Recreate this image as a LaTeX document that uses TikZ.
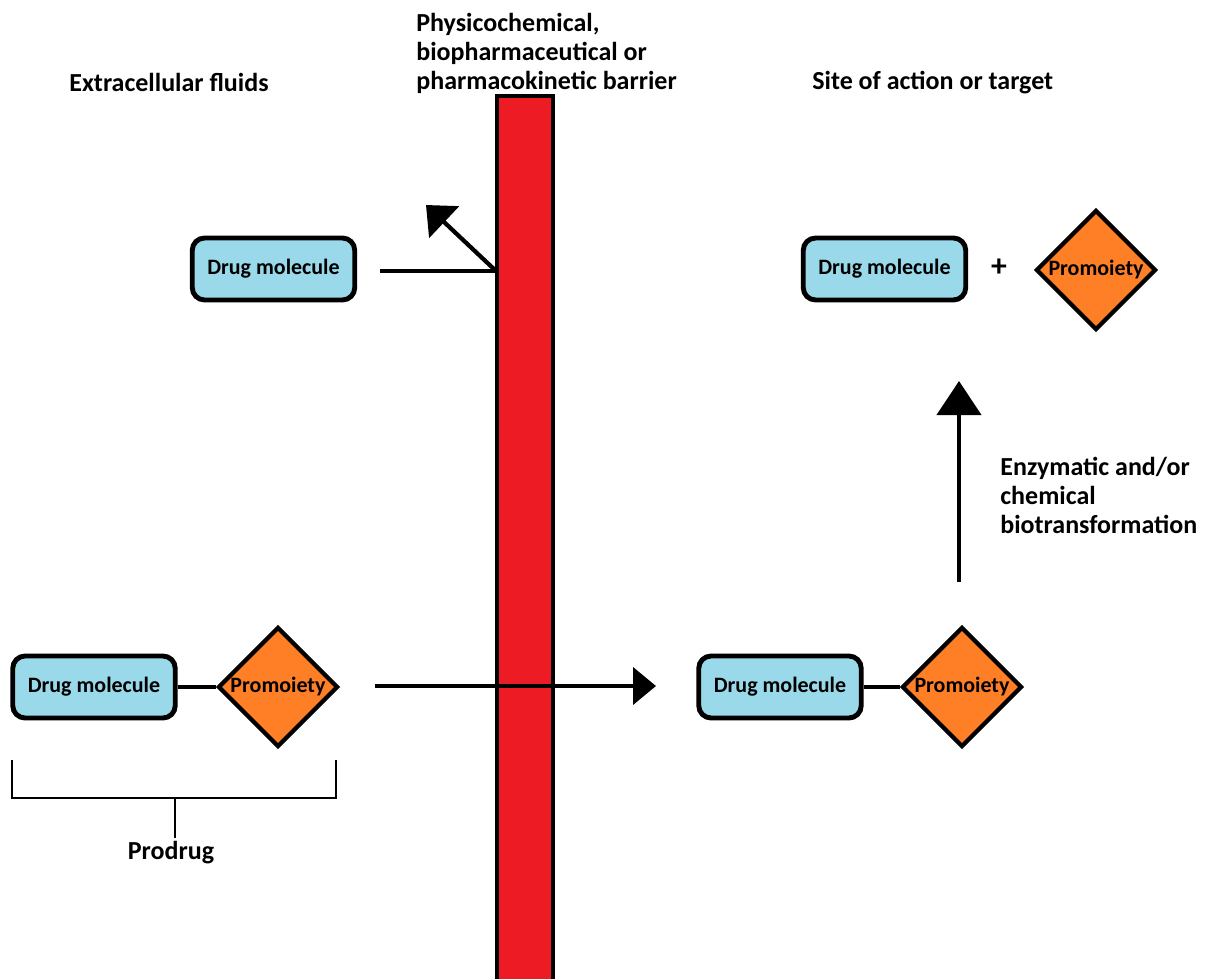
\documentclass[tikz,border=0pt]{standalone}
\usepackage{fontspec}
\setmainfont{Carlito}
\usetikzlibrary{shapes.geometric, arrows.meta, positioning}

\definecolor{molblue}{RGB}{153,217,234}
\definecolor{moietyorange}{RGB}{255,127,39}
\definecolor{barrierred}{RGB}{237,28,36}

\tikzset{
	molecule/.style = {draw, line width = 2.8pt, rounded corners = 7pt, fill = molblue,
		minimum width = 3.25cm, minimum height = 1.24cm, inner sep = 0pt,
		font = \bfseries\fontsize{12.5}{15}\selectfont},
	moiety/.style = {diamond, draw, line width = 2.4pt, fill = moietyorange, aspect = 1,
		minimum size = 2.4cm, inner sep = 0pt,
		label = {[font = \bfseries\fontsize{12.5}{15}\selectfont]center:Promoiety}},
	bond/.style = {line width = 2.4pt},
	heading/.style = {inner sep = 0pt, align = left, font = \bfseries\fontsize{14.8}{16.6}\selectfont}
}

\begin{document}
\begin{tikzpicture}[x = 0.02cm, y = -0.02cm]
\useasboundingbox (0, 0) rectangle (1210, 978);
\clip (0, 0) rectangle (1210, 978);

\node[heading, anchor = base west] (fluids) at (69, 91) {Extracellular fluids};
\node[heading, anchor = north west] (barrierlabel) at (416, 13) {Physicochemical,\\ biopharmaceutical or\\ pharmacokinetic barrier};
\node[heading, anchor = base west] (target) at (812, 89) {Site of action or target};

% the barrier
\draw[line width = 1.8pt, fill = barrierred] (497, 96) rectangle (553, 995);

% drug alone is turned back
\node[molecule] (drugA) at (273.5, 269) {Drug molecule};
\coordinate (blockstart) at (380, 271);
\coordinate (blockhit) at (496, 271);
\coordinate (bounce) at (426, 205);
\draw[bond] (blockstart) -- (blockhit);
\draw[bond, -{Triangle[length = 0.5cm, width = 0.86cm]}] (blockhit) -- (bounce);

% prodrug crosses the barrier
\node[molecule] (drugB) at (94, 687) {Drug molecule};
\node[moiety] (moietyB) at (278, 687) {};
\draw[bond] (drugB) -- (moietyB);
\coordinate (passstart) at (375, 686);
\coordinate (passend) at (656, 686);
\draw[bond, -{Triangle[length = 0.46cm, width = 0.74cm]}] (passstart) -- (passend);

\draw[line width = 0.8pt] (12, 760) -- (12, 798) -- (336, 798) -- (336, 760);
\coordinate (bracketmid) at (175, 798);
\node[heading, inner sep = 2pt] (prodrug) at (171, 853) {Prodrug};
\draw[line width = 0.8pt] (bracketmid) -- (bracketmid |- prodrug.north);

\node[molecule] (drugC) at (780, 687) {Drug molecule};
\node[moiety] (moietyC) at (962, 687) {};
\draw[bond] (drugC) -- (moietyC);

% release at the target
\coordinate (transfstart) at (959, 582);
\coordinate (transfend) at (959, 381);
\draw[bond, -{Triangle[length = 0.68cm, width = 0.88cm]}] (transfstart) -- (transfend);
\node[heading, anchor = north west] (enzyme) at (1000, 457) {Enzymatic and/or\\ chemical\\ biotransformation};

\node[molecule] (drugD) at (884.5, 269) {Drug molecule};
\node[font = \bfseries\fontsize{18}{20}\selectfont] (plus) at (999, 268) {+};
\node[moiety] (moietyD) at (1096, 270) {};
\end{tikzpicture}
\end{document}
